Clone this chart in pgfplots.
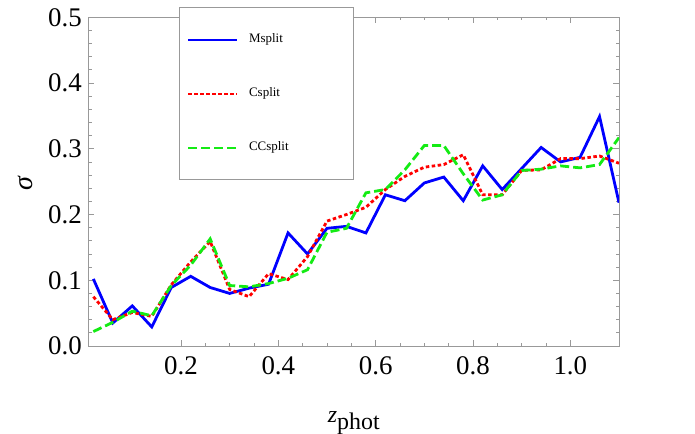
\documentclass[border=0pt]{standalone}
\usepackage{fontspec}
\setmainfont{Liberation Serif}
\usepackage{pgfplots}
\usepackage{pgfplotstable}
\pgfplotsset{compat=1.18}

\definecolor{mblue}{RGB}{0,0,255}
\definecolor{mred}{RGB}{255,0,0}
\definecolor{mgreen}{RGB}{20,235,20}
\definecolor{frame}{gray}{0.6}

% columns: z, sigma
\pgfplotstableread{
z    s
0.02 0.102
0.06 0.035
0.10 0.061
0.14 0.029
0.18 0.089
0.22 0.106
0.26 0.089
0.30 0.080
0.34 0.088
0.38 0.094
0.42 0.172
0.46 0.140
0.50 0.179
0.54 0.182
0.58 0.172
0.62 0.230
0.66 0.221
0.70 0.248
0.74 0.257
0.78 0.221
0.82 0.274
0.86 0.238
0.90 0.270
0.94 0.302
0.98 0.280
1.02 0.287
1.06 0.349
1.10 0.218
}\msplit

\pgfplotstableread{
z    s
0.02 0.075
0.06 0.040
0.10 0.051
0.14 0.045
0.18 0.093
0.22 0.128
0.26 0.159
0.30 0.086
0.34 0.075
0.38 0.110
0.42 0.101
0.46 0.136
0.50 0.190
0.54 0.200
0.58 0.211
0.62 0.238
0.66 0.258
0.70 0.272
0.74 0.276
0.78 0.291
0.82 0.230
0.86 0.230
0.90 0.267
0.94 0.268
0.98 0.285
1.02 0.285
1.06 0.289
1.10 0.278
}\csplit

\pgfplotstableread{
z    s
0.02 0.022
0.06 0.036
0.10 0.053
0.14 0.046
0.18 0.092
0.22 0.123
0.26 0.163
0.30 0.092
0.34 0.090
0.38 0.095
0.42 0.103
0.46 0.116
0.50 0.173
0.54 0.179
0.58 0.233
0.62 0.238
0.66 0.268
0.70 0.305
0.74 0.305
0.78 0.262
0.82 0.222
0.86 0.230
0.90 0.267
0.94 0.269
0.98 0.274
1.02 0.271
1.06 0.276
1.10 0.317
}\ccsplit

\begin{document}
\begin{tikzpicture}
\useasboundingbox (0,0) rectangle (695bp,434bp);
\begin{axis}[
    at={(88.5bp,88bp)}, anchor=south west,
    scale only axis,
    width=530.5bp, height=328.7bp,
    xmin=0.01, xmax=1.1,
    ymin=0, ymax=0.5,
    xtick={0.2,0.4,0.6,0.8,1.0},
    ytick={0,0.1,0.2,0.3,0.4,0.5},
    minor x tick num=3,
    minor y tick num=4,
    tick align=inside,
    major tick length=6bp,
    minor tick length=3bp,
    axis line style={frame, line width=0.8bp},
    every tick/.style={frame, line width=0.8bp},
    /pgf/number format/assume math mode=true,
    /pgf/number format/.cd, fixed, fixed zerofill, precision=1, /pgfplots/.cd,
    xticklabel style={font=\fontsize{27}{30}\selectfont, inner sep=0pt, anchor=north, yshift=-10.5bp},
    yticklabel style={font=\fontsize{27}{30}\selectfont, inner sep=0pt, anchor=east, xshift=-6.5bp},
    xlabel={\fontsize{24}{28}\selectfont\textit{z}\raisebox{-7bp}{phot}},
    xlabel style={at={(axis description cs:0.5,0)}, anchor=base, yshift=-76bp, inner sep=0pt},
    ylabel={\fontsize{28}{30}\selectfont\textit{σ}},
    ylabel style={at={(axis description cs:-0.1197,0.496)}, anchor=center, inner sep=0pt},
    legend image code/.code={\draw[#1, line width=1.7bp] (0bp,0bp) -- (49bp,0bp);},
    legend style={
        at={(0.1706,1.0304)}, anchor=north west,
        draw=frame, fill=white, line width=0.8bp,
        inner xsep=8bp, inner ysep=26bp,
        row sep=42bp, column sep=11bp,
        nodes={inner sep=0pt, text height=9bp, text depth=3bp,
               font=\fontsize{13}{15}\selectfont},
    },
    legend cell align=left,
]
\addplot[mblue, line width=2.8bp] table[x=z, y=s] {\msplit};
\addlegendentry{\makebox[96bp][l]{Msplit}}
\addplot[mred, line width=2.8bp, dash pattern=on 3.5bp off 2.5bp] table[x=z, y=s] {\csplit};
\addlegendentry{\makebox[96bp][l]{Csplit}}
\addplot[mgreen, line width=2.8bp, dash pattern=on 9bp off 4bp] table[x=z, y=s] {\ccsplit};
\addlegendentry{\makebox[96bp][l]{CCsplit}}
\end{axis}
\end{tikzpicture}
\end{document}
